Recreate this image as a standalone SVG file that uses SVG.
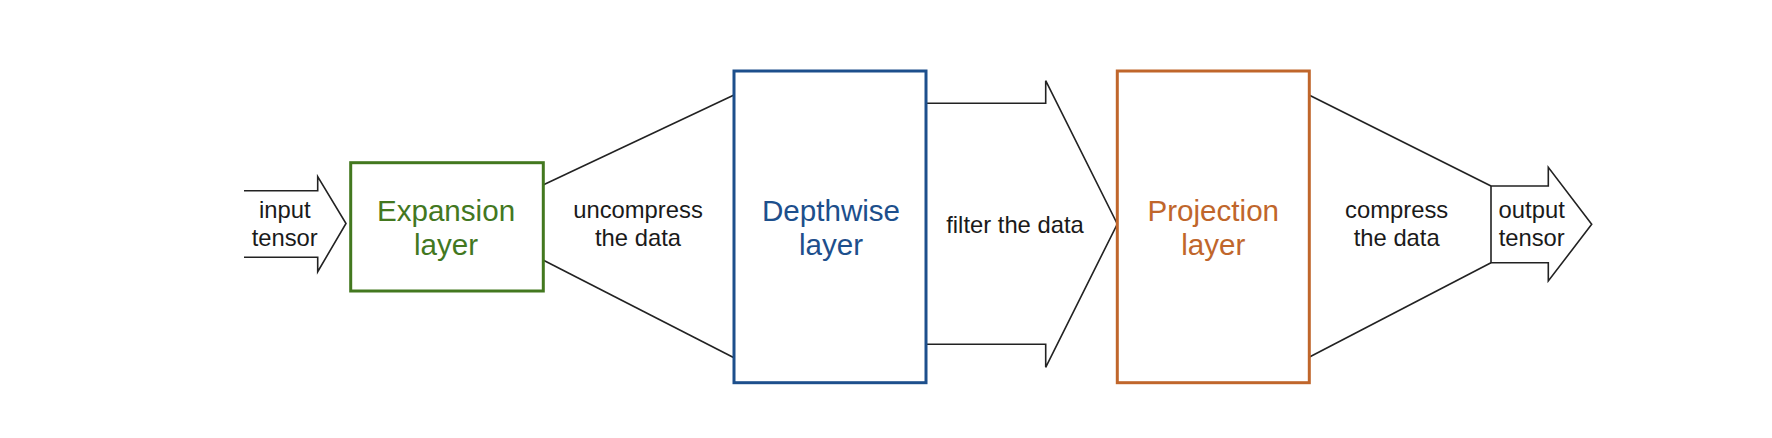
<svg xmlns="http://www.w3.org/2000/svg" width="1772" height="438" viewBox="0 0 1772 438">
<style>
.bg{fill:#ffffff}
.box{fill:#ffffff;stroke-width:3}
.conn{fill:none;stroke:#222222;stroke-width:1.6;stroke-linejoin:miter}
.lbl{font-family:"Liberation Sans",Arial,Helvetica,sans-serif;font-size:23.8px;fill:#1a1a1a;text-anchor:middle}
.title{font-family:"Liberation Sans",Arial,Helvetica,sans-serif;font-size:29.6px;text-anchor:middle}
</style>
<rect class="bg" x="0" y="0" width="1772" height="438"/>
<g id="connectors">
  <polyline class="conn" points="244,190.7 317.7,190.7 317.7,176.7 346,223.5 317.7,271.7 317.7,257.3 244,257.3"/>
  <line class="conn" x1="543" y1="185" x2="734" y2="95"/>
  <line class="conn" x1="543" y1="260" x2="734" y2="357.7"/>
  <polyline class="conn" points="926,103.3 1045.7,103.3 1045.7,80.7 1117.3,224 1045.7,367.3 1045.7,344.3 926,344.3"/>
  <line class="conn" x1="1309" y1="95" x2="1491" y2="186"/>
  <line class="conn" x1="1309" y1="357.3" x2="1491" y2="262.7"/>
  <polygon class="conn" points="1491,186 1548.3,186 1548.3,167.3 1591.7,224.3 1548.3,281 1548.3,262.7 1491,262.7"/>
</g>
<g id="input-label">
  <text class="lbl" x="284.7" y="218.3">input</text>
  <text class="lbl" x="284.7" y="246">tensor</text>
</g>
<g id="expansion">
  <rect class="box" x="350.7" y="162.7" width="192.6" height="128.3" stroke="#43781f"/>
  <text class="title" x="446" y="220.7" fill="#43781f">Expansion</text>
  <text class="title" x="446" y="255" fill="#43781f">layer</text>
</g>
<g id="uncompress-label">
  <text class="lbl" x="638" y="218">uncompress</text>
  <text class="lbl" x="638" y="246">the data</text>
</g>
<g id="depthwise">
  <rect class="box" x="734" y="71" width="192" height="311.7" stroke="#1d4f8c"/>
  <text class="title" x="831" y="220.7" fill="#1d4f8c">Depthwise</text>
  <text class="title" x="831" y="255" fill="#1d4f8c">layer</text>
</g>
<g id="filter-label">
  <text class="lbl" x="1015" y="233.3">filter the data</text>
</g>
<g id="projection">
  <rect class="box" x="1117.3" y="71" width="192" height="311.7" stroke="#c0662b"/>
  <text class="title" x="1213.3" y="220.5" fill="#c0662b">Projection</text>
  <text class="title" x="1213.3" y="255" fill="#c0662b">layer</text>
</g>
<g id="compress-label">
  <text class="lbl" x="1396.7" y="218.3">compress</text>
  <text class="lbl" x="1396.7" y="246">the data</text>
</g>
<g id="output-label">
  <text class="lbl" x="1531.7" y="218.3">output</text>
  <text class="lbl" x="1531.7" y="246">tensor</text>
</g>
</svg>
